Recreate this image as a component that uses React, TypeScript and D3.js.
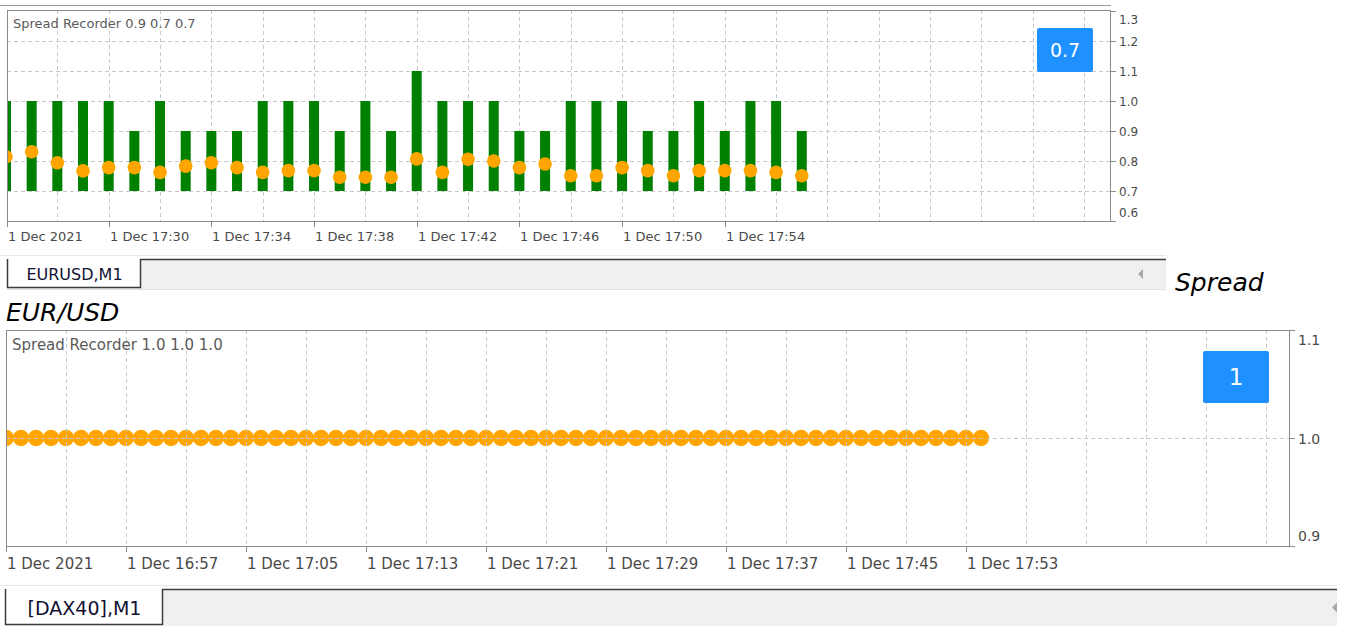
import React from 'react';
import * as d3 from 'd3';

const FONT = '"DejaVu Sans", Verdana, sans-serif';
const at = (hhmm: string) => {
  const [h, m] = hhmm.split(':').map(Number);
  return new Date(2021, 11, 1, h, m);
};

// EURUSD,M1 - one bar per minute starting 17:26
const eurStart = '17:26';
const eurHigh = [
  1.0, 1.0, 1.0, 1.0, 1.0, 0.9, 1.0, 0.9, 0.9, 0.9, 1.0, 1.0, 1.0, 0.9, 1.0, 0.9,
  1.1, 1.0, 1.0, 1.0, 0.9, 0.9, 1.0, 1.0, 1.0, 0.9, 0.9, 1.0, 0.9, 1.0, 1.0, 0.9,
];
const eurLow = [
  0.7, 0.7, 0.7, 0.7, 0.7, 0.7, 0.7, 0.7, 0.7, 0.7, 0.7, 0.7, 0.7, 0.7, 0.7, 0.7,
  0.7, 0.7, 0.7, 0.7, 0.7, 0.7, 0.7, 0.7, 0.7, 0.7, 0.7, 0.7, 0.7, 0.7, 0.7, 0.7,
];
const eurAvg = [
  0.814, 0.831, 0.794, 0.767, 0.778, 0.778, 0.762, 0.783, 0.794, 0.778, 0.762, 0.768,
  0.768, 0.746, 0.746, 0.746, 0.807, 0.762, 0.806, 0.8, 0.778, 0.79, 0.751, 0.751,
  0.778, 0.768, 0.751, 0.768, 0.768, 0.768, 0.762, 0.751,
];
const eurCurrent = 0.7;
const eurTickTimes = ['17:26', '17:30', '17:34', '17:38', '17:42', '17:46', '17:50', '17:54'];
const eurTickLabels = [
  '1 Dec 2021', '1 Dec 17:30', '1 Dec 17:34', '1 Dec 17:38',
  '1 Dec 17:42', '1 Dec 17:46', '1 Dec 17:50', '1 Dec 17:54',
];
const eurYTicks = [1.3, 1.2, 1.1, 1.0, 0.9, 0.8, 0.7, 0.6];
const eurGridY = [1.2, 1.1, 1.0, 0.9, 0.8, 0.7];

// [DAX40],M1 - one point per minute starting 16:49
const daxStart = '16:49';
const daxAvg = [
  1.0, 1.0, 1.0, 1.0, 1.0, 1.0, 1.0, 1.0, 1.0, 1.0, 1.0, 1.0, 1.0, 1.0, 1.0, 1.0, 1.0,
  1.0, 1.0, 1.0, 1.0, 1.0, 1.0, 1.0, 1.0, 1.0, 1.0, 1.0, 1.0, 1.0, 1.0, 1.0, 1.0,
  1.0, 1.0, 1.0, 1.0, 1.0, 1.0, 1.0, 1.0, 1.0, 1.0, 1.0, 1.0, 1.0, 1.0, 1.0, 1.0,
  1.0, 1.0, 1.0, 1.0, 1.0, 1.0, 1.0, 1.0, 1.0, 1.0, 1.0, 1.0, 1.0, 1.0, 1.0, 1.0, 1.0,
];
const daxHigh = 1.0;
const daxLow = 1.0;
const daxCurrent = 1;
const daxTickTimes = ['16:49', '16:57', '17:05', '17:13', '17:21', '17:29', '17:37', '17:45', '17:53'];
const daxTickLabels = [
  '1 Dec 2021', '1 Dec 16:57', '1 Dec 17:05', '1 Dec 17:13', '1 Dec 17:21',
  '1 Dec 17:29', '1 Dec 17:37', '1 Dec 17:45', '1 Dec 17:53',
];
const daxYTicks = [1.1, 1.0, 0.9];
const daxGridY = [1.0];

const GRID = '#c8c8c8';
const FRAME = '#8a8a8a';
const TEXT = '#4a4a4a';

type PanelProps = {
  id: string;
  left: number; right: number; top: number; bottom: number;
  x: d3.ScaleTime<number, number>;
  y: d3.ScaleLinear<number, number>;
  gridStep: number;
  gridY: number[];
  times: Date[];
  high?: number[];
  low?: number[];
  avg: number[];
  barW: number;
  dotR: number;
  tickTimes: string[];
  tickLabels: string[];
  yTicks: number[];
  title: string;
  fs: number;
  yfs: number;
  badge: { text: string; x: number; y: number; w: number; h: number; fs: number };
  gridOnTop?: boolean;
};

const Panel = (p: PanelProps) => {
  const t0 = p.times[0];
  const [, t1] = p.x.domain();
  const n = Math.floor((+t1 - +t0) / 60000);
  const gridTimes = d3.range(p.gridStep, n + 1, p.gridStep)
    .map(k => d3.timeMinute.offset(t0, k))
    .filter(t => p.x(t) < p.right - 1);
  const grid = (
    <g stroke={GRID} strokeWidth={1} strokeDasharray="4 3">
      {gridTimes.map((t, i) => (
        <line key={'v' + i} x1={Math.round(p.x(t)) + 0.5} x2={Math.round(p.x(t)) + 0.5} y1={p.top} y2={p.bottom} />
      ))}
      {p.gridY.map(v => (
        <line key={'h' + v} x1={p.left} x2={p.right} y1={Math.round(p.y(v)) + 0.5} y2={Math.round(p.y(v)) + 0.5} />
      ))}
    </g>
  );
  const nY = p.yTicks.length;
  return (
    <g fontFamily={FONT}>
      <defs>
        <clipPath id={p.id}>
          <rect x={p.left} y={p.top} width={p.right - p.left} height={p.bottom - p.top} />
        </clipPath>
      </defs>
      {!p.gridOnTop && grid}
      <g clipPath={`url(#${p.id})`}>
        {p.high && p.low && p.times.map((t, i) => (
          <rect key={'b' + i} x={p.x(t) - p.barW / 2} width={p.barW}
            y={p.y(p.high![i])} height={p.y(p.low![i]) - p.y(p.high![i])} fill="#008000" />
        ))}
        {p.times.map((t, i) => (
          <circle key={'d' + i} cx={p.x(t)} cy={p.y(p.avg[i])} r={p.dotR} fill="#FFA500" />
        ))}
      </g>
      {p.gridOnTop && grid}
      <rect x={p.left + 0.5} y={p.top + 0.5} width={p.right - p.left} height={p.bottom - p.top}
        fill="none" stroke={FRAME} strokeWidth={1} />
      <text x={p.left + 6} y={p.top + p.fs * 1.35} fontSize={p.fs} fill="#5a5a5a">{p.title}</text>
      <rect x={p.badge.x} y={p.badge.y} width={p.badge.w} height={p.badge.h} rx={2} fill="#1E90FF" />
      <text x={p.badge.x + p.badge.w / 2} y={p.badge.y + p.badge.h / 2} fontSize={p.badge.fs}
        fill="#fff" textAnchor="middle" dominantBaseline="central">{p.badge.text}</text>
      {/* time axis */}
      <g fill={TEXT} fontSize={p.fs}>
        {p.tickTimes.map((s, i) => {
          const px = Math.max(p.left, Math.round(p.x(at(s)))) + 0.5;
          return (
            <g key={s}>
              <line x1={px} x2={px} y1={p.bottom} y2={p.bottom + 6} stroke={FRAME} />
              <text x={px + 0.5} y={p.bottom + p.fs * 1.55}>{p.tickLabels[i]}</text>
            </g>
          );
        })}
      </g>
      {/* value axis */}
      <g fill={TEXT} fontSize={p.yfs}>
        {p.yTicks.map((v, i) => {
          const py = Math.round(p.y(v)) + 0.5;
          const off = i === 0 ? p.yfs * 0.68 : i === nY - 1 ? -p.yfs * 0.72 : 0;
          return (
            <g key={v}>
              <line x1={p.right} x2={p.right + 6} y1={py} y2={py} stroke={FRAME} />
              <text x={p.right + 9} y={py + off} dominantBaseline="central">{v.toFixed(1)}</text>
            </g>
          );
        })}
      </g>
    </g>
  );
};

const Tabs = ({ x0, x1, top, bottom, tabRight, label, fs, arrowX }: {
  x0: number; x1: number; top: number; bottom: number; tabRight: number; label: string; fs: number; arrowX: number;
}) => {
  const cy = (top + bottom) / 2;
  return (
    <g fontFamily={FONT}>
      <line x1={0} x2={x1} y1={top - 3.5} y2={top - 3.5} stroke="#e8e8e8" />
      <rect x={x0} y={top} width={x1 - x0} height={bottom - top} fill="#f0f0f0" />
      <line x1={x0} x2={x1} y1={bottom + 0.5} y2={bottom + 0.5} stroke="#e0e0e0" />
      <line x1={tabRight} x2={x1} y1={top + 0.5} y2={top + 0.5} stroke="#3c3c3c" strokeWidth={1.5} />
      <path d={`M${x0 + 0.5},${top} V${bottom - 1.5} H${tabRight + 0.5} V${top}`} fill="#fff" stroke="#3c3c3c" strokeWidth={1.5} />
      <text x={(x0 + tabRight) / 2 + 1} y={cy} fontSize={fs} fill="#111133" textAnchor="middle" dominantBaseline="central">{label}</text>
      <path d={`M${arrowX},${cy} l5,-5 v10 z`} fill="#a8a8a8" />
    </g>
  );
};

export default function App() {
  const eurTimes = eurHigh.map((_, i) => d3.timeMinute.offset(at(eurStart), i));
  const eurX = d3.scaleTime().domain([at(eurStart), at('18:09')]).range([6, 6 + 43 * 25.67]);
  const eurY = d3.scaleLinear().domain([0.6, 1.3]).range([221, 11]);

  const daxTimes = daxAvg.map((_, i) => d3.timeMinute.offset(at(daxStart), i));
  const daxX = d3.scaleTime().domain([at(daxStart), at('18:14')]).range([6, 6 + 85 * 15]);
  const daxY = d3.scaleLinear().domain([0.9, 1.1]).range([546, 330]);

  const last = eurHigh.length - 1;
  return (
    <div style={{ position: 'absolute', left: 0, top: 0 }}>
      <svg width={1345} height={626} style={{ display: 'block', background: '#fff' }}>
        <line x1={0} x2={1111} y1={5.5} y2={5.5} stroke="#9a9a9a" />
        <Panel id="eur" left={7} right={1110} top={10} bottom={221}
          x={eurX} y={eurY} gridStep={2} gridY={eurGridY}
          times={eurTimes} high={eurHigh} low={eurLow} avg={eurAvg} barW={10} dotR={6.8}
          tickTimes={eurTickTimes} tickLabels={eurTickLabels} yTicks={eurYTicks}
          title={`Spread Recorder ${eurHigh[last].toFixed(1)} ${eurLow[last].toFixed(1)} ${eurCurrent.toFixed(1)}`}
          fs={13} yfs={12}
          badge={{ text: String(eurCurrent), x: 1037, y: 28, w: 56, h: 44, fs: 19 }} />
        <Tabs x0={7} x1={1166} top={259} bottom={289} tabRight={140} label="EURUSD,M1" fs={16} arrowX={1138} />
        <text x={1175} y={291} fontFamily={FONT} fontStyle="italic" fontSize={25} fill="#000">Spread</text>
        <text x={6} y={321} fontFamily={FONT} fontStyle="italic" fontSize={25} fill="#000">EUR/USD</text>

        <Panel id="dax" left={6} right={1289} top={330} bottom={546}
          x={daxX} y={daxY} gridStep={4} gridY={daxGridY}
          times={daxTimes} avg={daxAvg} barW={0} dotR={8.2}
          tickTimes={daxTickTimes} tickLabels={daxTickLabels} yTicks={daxYTicks}
          title={`Spread Recorder ${daxHigh.toFixed(1)} ${daxLow.toFixed(1)} ${daxCurrent.toFixed(1)}`}
          fs={15} yfs={14} gridOnTop
          badge={{ text: String(daxCurrent), x: 1203, y: 351, w: 66, h: 52, fs: 23 }} />
        <Tabs x0={5} x1={1337} top={589} bottom={626} tabRight={162} label="[DAX40],M1" fs={19} arrowX={1332} />
      </svg>
    </div>
  );
}
